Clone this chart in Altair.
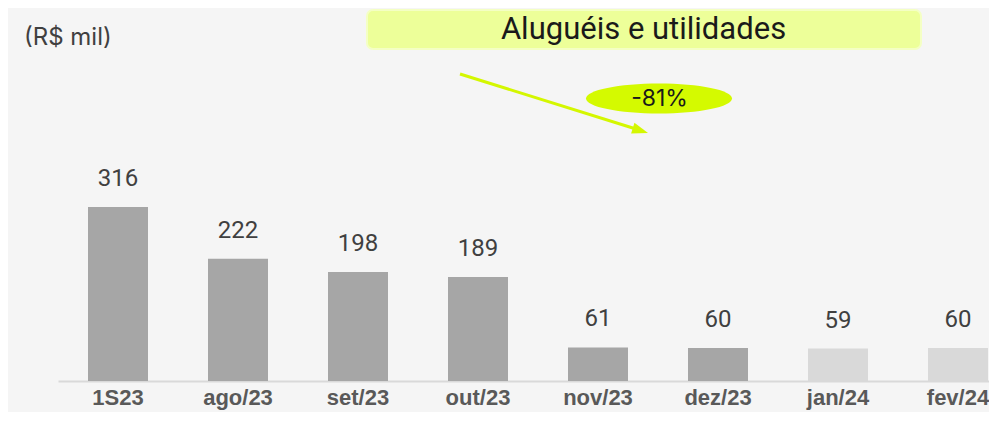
import altair as alt
import pandas as pd

# ---- data ----
categories = ["1S23", "ago/23", "set/23", "out/23", "nov/23", "dez/23", "jan/24", "fev/24"]
values = [316, 222, 198, 189, 61, 60, 59, 60]
groups = ["real", "real", "real", "real", "real", "real", "proj", "proj"]
group_domain = ["real", "proj"]
group_colors = ["#a6a6a6", "#d9d9d9"]

unit_label = ["(R$ mil)"]
title_label = ["Aluguéis e utilidades"]
change_label = ["-81%"]

df = pd.DataFrame({"cat": categories, "val": values, "grupo": groups})

FONT = "Roboto"
BG = "#f5f5f5"
LIME = "#d4f700"

x = alt.X(
    "cat:N",
    sort=categories,
    scale=alt.Scale(range=[0, 960], paddingInner=0.5, paddingOuter=0.25),
    axis=alt.Axis(
        title=None, labelAngle=0, ticks=False, grid=False,
        domainColor="#d9d9d9", domainWidth=2,
        labelFont="Liberation Sans", labelFontWeight="bold", labelFontSize=22,
        labelColor="#595959", labelPadding=23, labelBaseline="alphabetic",
    ),
)
y = alt.Y("val:Q", scale=alt.Scale(domain=[0, 677.4], nice=False, zero=True), axis=None)

base = alt.Chart(df)

bars = base.mark_bar().encode(
    x=x, y=y,
    color=alt.Color("grupo:N", scale=alt.Scale(domain=group_domain, range=group_colors), legend=None),
)

labels = base.mark_text(
    dy=-21, baseline="alphabetic", font=FONT, fontSize=24, color="#404040"
).encode(x=x, y=y, text=alt.Text("val:Q"))

# ---- annotations ----
ann = alt.Chart(pd.DataFrame({"t": [0]}))

box = ann.mark_rect(
    fill="#edff99", stroke="#f4ffc4", strokeWidth=2, cornerRadius=6
).encode(x=alt.value(309), x2=alt.value(863), y=alt.value(2), y2=alt.value(41))

title = alt.Chart(pd.DataFrame({"t": title_label})).mark_text(
    font=FONT, fontSize=31, color="#1a1a1a", align="center", baseline="middle"
).encode(x=alt.value(585.5), y=alt.value(22), text="t:N")

unit = alt.Chart(pd.DataFrame({"t": unit_label})).mark_text(
    font="Inter", fontSize=24, color="#404040", align="left", baseline="middle"
).encode(x=alt.value(-34), y=alt.value(29.5), text="t:N")

arrow_line = ann.mark_rule(color=LIME, strokeWidth=3).encode(
    x=alt.value(402), y=alt.value(66), x2=alt.value(578), y2=alt.value(121)
)

arrow_head = ann.mark_point(
    shape="M -1 -0.7 L 1 0 L -1 0.7 Z", filled=True, opacity=1,
    color=LIME, size=256, angle=17.4,
).encode(x=alt.value(582.4), y=alt.value(122.6))

ellipse = ann.mark_point(
    shape="M -1 0 A 1 0.2055 0 1 1 1 0 A 1 0.2055 0 1 1 -1 0 Z",
    filled=True, opacity=1, color="#d4fa00", size=21316,
).encode(x=alt.value(601), y=alt.value(90.5))

change = alt.Chart(pd.DataFrame({"t": change_label})).mark_text(
    font="Inter", fontSize=23, color="#1a1a1a", align="center", baseline="middle"
).encode(x=alt.value(601.5), y=alt.value(91), text="t:N")

chart = alt.layer(
    bars, labels, box, title, unit, arrow_line, arrow_head, ellipse, change
).properties(
    width=931, height=373,
    background=BG,
    padding={"left": 50, "top": 0, "right": 0, "bottom": 31},
    autosize=alt.AutoSizeParams(type="none"),
).configure_view(stroke=None)

chart.save("out.html", embed_options={"renderer": "svg", "actions": False})
